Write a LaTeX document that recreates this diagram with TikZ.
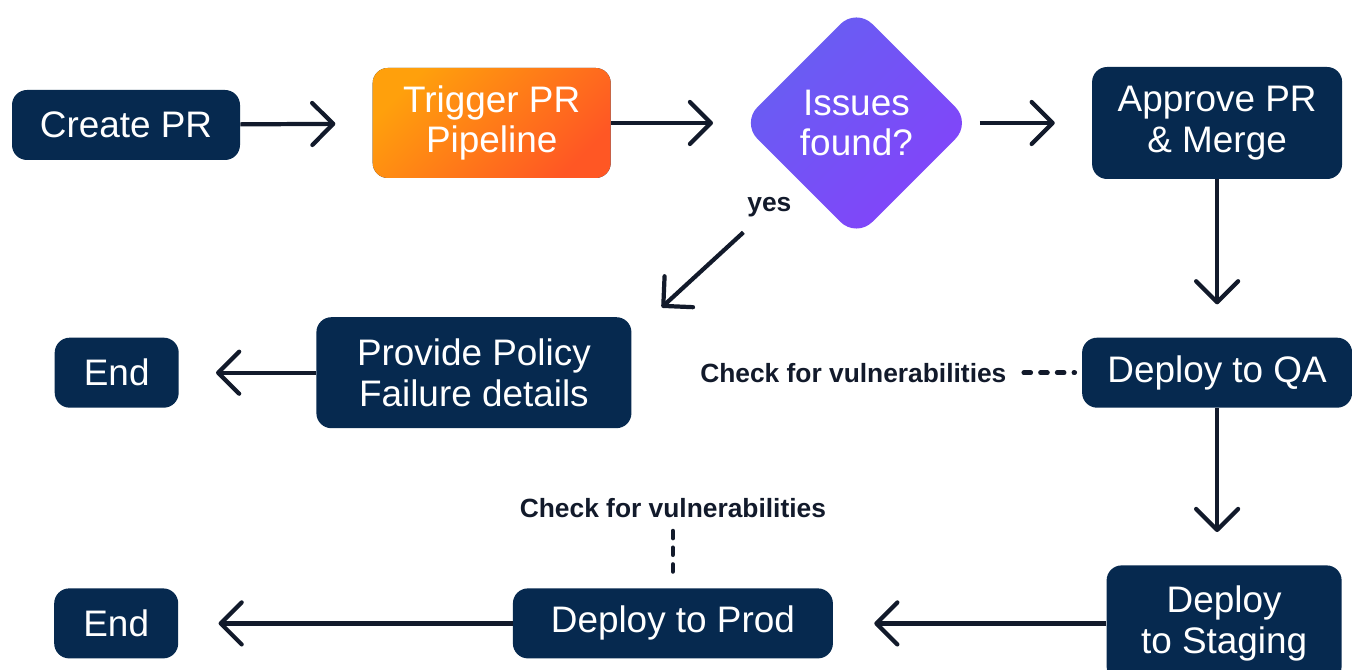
\documentclass[tikz,border=0pt]{standalone}
\usepackage{fontspec}
\setmainfont{Liberation Sans}
\usepackage{tikz}
\usetikzlibrary{shapes}
\usetikzlibrary{positioning}
\usetikzlibrary{arrows.meta}
\definecolor{navy}{HTML}{06294F}
\definecolor{ink}{HTML}{121A2B}
\definecolor{orangeA}{HTML}{FFA00C}
\definecolor{orangeB}{HTML}{FF5724}
\definecolor{violetA}{HTML}{6660F2}
\definecolor{violetB}{HTML}{8442FA}
\tikzstyle{box} = [rectangle,rounded corners=0.3cm,fill=navy,text=white,align=center,inner sep=0pt,font=\fontsize{21}{23}\selectfont]
\tikzstyle{hot} = [box,top color=orangeA,bottom color=orangeB,shading angle=45]
\tikzstyle{decision} = [diamond,aspect=1,rounded corners=0.45cm,text=white,align=center,inner sep=0pt,font=\fontsize{21}{23}\selectfont,top color=violetA,bottom color=violetB,shading angle=45]
\tikzstyle{note} = [inner sep=0pt,text=ink,font=\bfseries\fontsize{15}{17}\selectfont]

\begin{document}
\begin{tikzpicture}
	[node distance=2cm,]
	\tikzstyle{arrow}=[-{Straight Barb[length=0.42cm,width=0.84cm,round]},line width=2.4pt,color=ink];
	\tikzstyle{checkline}=[line width=2.6pt,color=ink,line cap=round,dash pattern=on 4pt off 5.5pt];

	\useasboundingbox[fill=white] (0,0) rectangle (27.04,13.4);

	\node (create) [box,minimum width=4.56cm,minimum height=1.4cm] at (2.52,10.9) {Create PR};
	\node (trigger) [hot,minimum width=4.76cm,minimum height=2.2cm,right=2.64cm of create,yshift=0.04cm] {Trigger PR\\Pipeline};
	\node (issues) [decision,minimum size=4.6cm,right=2.6cm of trigger] {Issues\\found?};
	\node (approve) [box,minimum width=5cm,minimum height=2.24cm,right=2.4cm of issues] {Approve PR\\\& Merge};
	\node (qa) [box,minimum width=5.4cm,minimum height=1.4cm,below=3.16cm of approve] {Deploy to QA};
	\node (staging) [box,minimum width=4.7cm,minimum height=2.32cm,below=3.14cm of qa,xshift=0.14cm] {Deploy\\to Staging};
	\node (prod) [box,minimum width=6.4cm,minimum height=1.4cm,left=5.46cm of staging] {Deploy to Prod};
	\node (end2) [box,minimum width=2.48cm,minimum height=1.4cm,left=6.68cm of prod] {End};
	\node (policy) [box,minimum width=6.3cm,minimum height=2.22cm,left=9cm of qa] {Provide Policy\\Failure details};
	\node (end1) [box,minimum width=2.48cm,minimum height=1.4cm,left=2.74cm of policy] {End};

	\node (yes) [note] at ([xshift=-1.74cm,yshift=0.62cm]issues.south) {yes};
	\node (chk1) [note,left=1.5cm of qa] {Check for vulnerabilities};
	\node (chk2) [note,above=1.4cm of prod] {Check for vulnerabilities};

	\path[arrow]
		(create) edge[shorten >=0.74cm] (trigger)
		(trigger) edge[shorten >=0.56cm] (issues)
		(issues) edge[shorten <=0.16cm,shorten >=0.74cm] (approve)
		(approve) edge[shorten >=0.66cm] (qa)
		(qa) edge[shorten >=0.66cm] (staging.north -| qa)
		(staging) edge[shorten >=0.82cm] (prod)
		(prod) edge[shorten >=0.8cm] (end2)
		(policy) edge[shorten >=0.74cm] (end1)
		([xshift=-2.26cm,yshift=0.12cm]issues.south) edge ([xshift=0.6cm,yshift=0.19cm]policy.north east);
	\path[checkline]
		(chk1) edge[shorten <=0.34cm,shorten >=0.14cm] (qa)
		(chk2) edge[shorten <=0.26cm,shorten >=0.18cm] (prod);
\end{tikzpicture}
\end{document}
